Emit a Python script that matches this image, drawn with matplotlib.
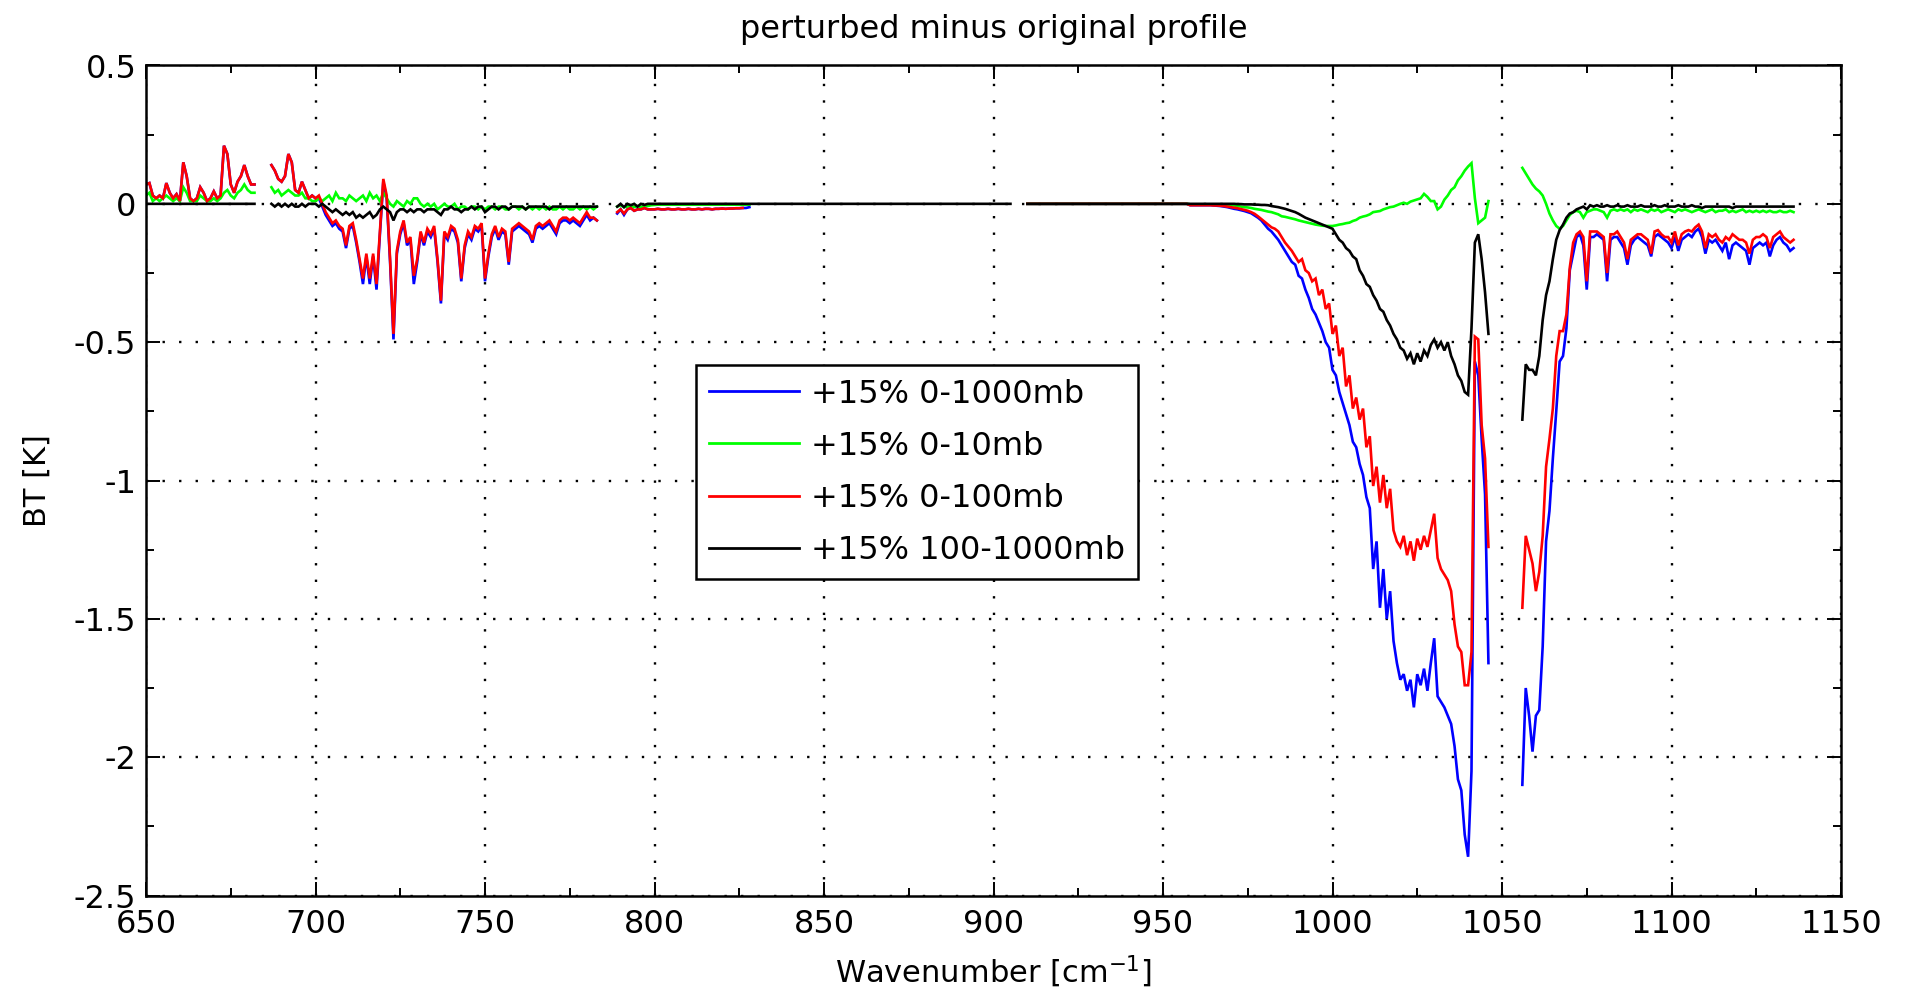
import numpy as np
import matplotlib
matplotlib.use("Agg")
import matplotlib.pyplot as plt
from matplotlib.ticker import MultipleLocator, FuncFormatter

plt.rcParams['font.family'] = ['DejaVu Sans']
plt.rcParams['axes.unicode_minus'] = False

# ---------------- data (BT differences, K) ----------------
TITLE = "perturbed minus original profile"
XLABEL = "Wavenumber [cm$^{-1}$]"
YLABEL = "BT [K]"
LABELS = ["+15% 0-1000mb", "+15% 0-10mb", "+15% 0-100mb", "+15% 100-1000mb"]
COLORS = ["#0000ff", "#00ff00", "#ff0000", "#000000"]

# spectral segments (1 cm-1 grid), start wavenumbers
START_A, START_B, START_C, START_D, START_E = 650, 687, 789, 958, 1056

# segment A: 650-682
RED_A = [0.07, 0.075, 0.03, 0.02, 0.03, 0.02, 0.075, 0.04, 0.02, 0.035,
         0.01, 0.15, 0.10, 0.02, 0.01, 0.02, 0.06, 0.04, 0.01, 0.02,
         0.045, 0.02, 0.03, 0.21, 0.18, 0.07, 0.04, 0.08, 0.10, 0.14,
         0.10, 0.07, 0.07]
BLUE_A = [0.07, 0.075, 0.03, 0.02, 0.03, 0.02, 0.075, 0.04, 0.02, 0.035,
          0.01, 0.15, 0.10, 0.02, 0.01, 0.02, 0.06, 0.04, 0.01, 0.02,
          0.045, 0.02, 0.03, 0.21, 0.18, 0.07, 0.04, 0.08, 0.10, 0.14,
          0.10, 0.07, 0.07]
GREEN_A = [0.03, 0.04, 0.01, 0.02, 0.01, 0.02, 0.03, 0.02, 0.01, 0.02,
           0.01, 0.06, 0.04, 0.01, 0.01, 0.01, 0.03, 0.02, 0.01, 0.01,
           0.02, 0.01, 0.02, 0.04, 0.05, 0.03, 0.02, 0.04, 0.05, 0.07,
           0.05, 0.04, 0.04]
BLACK_A_X = [650, 682]
BLACK_A_Y = [0.0, 0.0]

# segment B: 687-783
RED_B = [0.14, 0.12, 0.09, 0.08, 0.10, 0.18, 0.15, 0.05, 0.04, 0.08,
         0.05, 0.02, 0.03, 0.02, 0.03, 0.00, -0.03, -0.05, -0.07, -0.06,
         -0.08, -0.09, -0.15, -0.08, -0.07, -0.13, -0.20, -0.27, -0.18, -0.27,
         -0.18, -0.29, -0.10, 0.09, 0.03, -0.20, -0.47, -0.17, -0.10, -0.06,
         -0.14, -0.12, -0.26, -0.20, -0.10, -0.14, -0.09, -0.11, -0.08, -0.20,
         -0.35, -0.10, -0.12, -0.08, -0.09, -0.13, -0.27, -0.15, -0.10, -0.12,
         -0.08, -0.09, -0.07, -0.27, -0.18, -0.11, -0.08, -0.12, -0.09, -0.10,
         -0.21, -0.09, -0.08, -0.07, -0.08, -0.09, -0.10, -0.13, -0.08, -0.07,
         -0.08, -0.07, -0.06, -0.08, -0.10, -0.06, -0.05, -0.05, -0.06, -0.05,
         -0.06, -0.07, -0.05, -0.03, -0.05, -0.05, -0.06]
BLUE_B = [0.14, 0.12, 0.09, 0.08, 0.10, 0.18, 0.15, 0.05, 0.04, 0.08,
          0.05, 0.02, 0.03, 0.02, 0.02, -0.01, -0.04, -0.06, -0.08, -0.07,
          -0.09, -0.10, -0.16, -0.09, -0.08, -0.14, -0.21, -0.29, -0.19, -0.29,
          -0.19, -0.31, -0.11, 0.08, 0.02, -0.21, -0.49, -0.18, -0.11, -0.07,
          -0.15, -0.13, -0.29, -0.21, -0.11, -0.15, -0.10, -0.12, -0.09, -0.21,
          -0.36, -0.11, -0.13, -0.09, -0.10, -0.14, -0.28, -0.16, -0.11, -0.13,
          -0.09, -0.10, -0.08, -0.28, -0.19, -0.12, -0.09, -0.13, -0.10, -0.11,
          -0.22, -0.10, -0.09, -0.08, -0.09, -0.10, -0.11, -0.14, -0.09, -0.08,
          -0.09, -0.08, -0.07, -0.09, -0.11, -0.07, -0.06, -0.06, -0.07, -0.06,
          -0.07, -0.08, -0.06, -0.04, -0.06, -0.05, -0.06]
GREEN_B = [0.06, 0.04, 0.05, 0.03, 0.04, 0.05, 0.04, 0.03, 0.03, 0.04,
           0.02, 0.02, 0.01, 0.01, 0.02, 0.01, 0.02, 0.03, 0.01, 0.04,
           0.02, 0.02, 0.01, 0.03, 0.02, 0.01, 0.02, 0.03, 0.01, 0.04,
           0.02, 0.03, 0.01, 0.04, 0.02, 0.00, -0.01, 0.01, 0.00, -0.01,
           0.01, 0.00, 0.02, 0.02, 0.00, -0.01, 0.00, -0.01, 0.00, -0.02,
           -0.01, 0.00, -0.01, -0.01, 0.00, -0.02, -0.01, -0.01, -0.02, -0.01,
           -0.01, -0.02, -0.01, -0.02, -0.01, -0.01, -0.02, -0.01, -0.01, -0.02,
           -0.02, -0.01, -0.01, -0.02, -0.01, -0.02, -0.01, -0.02, -0.01, -0.02,
           -0.01, -0.02, -0.01, -0.02, -0.02, -0.01, -0.02, -0.01, -0.02, -0.02,
           -0.01, -0.02, -0.01, -0.02, -0.01, -0.02, -0.01]
BLACK_B = [0.00, -0.01, 0.00, -0.01, 0.00, -0.01, 0.00, -0.01, -0.01, 0.00,
           -0.01, 0.00, 0.00, 0.00, -0.01, 0.00, -0.01, -0.02, -0.03, -0.02,
           -0.03, -0.04, -0.03, -0.04, -0.03, -0.05, -0.04, -0.05, -0.04, -0.03,
           -0.05, -0.04, -0.02, -0.01, -0.02, -0.03, -0.06, -0.03, -0.02, -0.02,
           -0.03, -0.02, -0.03, -0.02, -0.02, -0.03, -0.02, -0.02, -0.02, -0.03,
           -0.04, -0.02, -0.02, -0.01, -0.02, -0.02, -0.03, -0.02, -0.02, -0.01,
           -0.02, -0.01, -0.01, -0.03, -0.02, -0.01, -0.01, -0.02, -0.01, -0.01,
           -0.02, -0.01, -0.01, -0.01, -0.01, -0.02, -0.01, -0.01, -0.01, -0.01,
           -0.01, -0.01, -0.02, -0.01, -0.01, -0.01, -0.01, -0.01, -0.01, -0.01,
           -0.01, -0.01, -0.01, -0.01, -0.01, -0.01, -0.01]

# segment C: 789-828
RED_C = [-0.03, -0.02, -0.035, -0.02, -0.015, -0.025, -0.02, -0.02, -0.015, -0.02,
         -0.02, -0.02, -0.018, -0.02, -0.02, -0.018, -0.02, -0.02, -0.018, -0.02,
         -0.02, -0.018, -0.02, -0.02, -0.018, -0.02, -0.018, -0.018, -0.02, -0.018,
         -0.018, -0.017, -0.018, -0.017, -0.017, -0.016, -0.016, -0.015]
BLUE_C = [-0.035, -0.02, -0.04, -0.02, -0.015, -0.025, -0.02, -0.02, -0.015, -0.02,
          -0.02, -0.02, -0.018, -0.02, -0.02, -0.018, -0.02, -0.02, -0.018, -0.02,
          -0.02, -0.018, -0.02, -0.02, -0.018, -0.02, -0.018, -0.018, -0.02, -0.018,
          -0.018, -0.017, -0.018, -0.017, -0.017, -0.016, -0.016, -0.015, -0.015, -0.012]
GREEN_C = [-0.01, -0.005, -0.012, -0.01, -0.005, -0.012, -0.008, -0.012, -0.006, -0.008,
           -0.005, -0.004]
GREEN_C_TAIL_X = [801, 828]
GREEN_C_TAIL_Y = [-0.003, -0.003]
BLACK_C = [-0.01, 0.0, -0.012, 0.0, -0.005, 0.0, -0.01, 0.0, -0.004, 0.0, 0.0, 0.0]
BLACK_C_TAIL_X = [801, 905]
BLACK_C_TAIL_Y = [0.0, 0.0]

# flat part before segment D
FLAT_D_X = [910, 957]
FLAT_D_Y = [0.0, 0.0]

# segment D: 958-1046
RED_D = [-0.005, -0.005, -0.005, -0.005, -0.005, -0.005, -0.005, -0.006, -0.006, -0.007,
         -0.008, -0.01, -0.012, -0.014, -0.016, -0.019, -0.022, -0.025, -0.03, -0.036,
         -0.045, -0.055, -0.065, -0.075, -0.085, -0.09, -0.10, -0.12, -0.14, -0.155,
         -0.17, -0.19, -0.21, -0.20, -0.24, -0.25, -0.28, -0.27, -0.33, -0.31,
         -0.38, -0.36, -0.47, -0.44, -0.55, -0.52, -0.66, -0.62, -0.74, -0.70,
         -0.78, -0.74, -0.88, -0.84, -1.02, -0.95, -1.08, -0.98, -1.10, -1.03,
         -1.18, -1.22, -1.24, -1.20, -1.27, -1.22, -1.29, -1.21, -1.25, -1.20,
         -1.24, -1.18, -1.12, -1.28, -1.32, -1.34, -1.36, -1.40, -1.52, -1.60,
         -1.62, -1.74, -1.74, -1.62, -0.48, -0.49, -0.80, -0.92, -1.24]
BLUE_D = [-0.005, -0.005, -0.005, -0.005, -0.005, -0.005, -0.005, -0.006, -0.007, -0.008,
          -0.01, -0.012, -0.015, -0.018, -0.02, -0.023, -0.026, -0.03, -0.034, -0.042,
          -0.05, -0.06, -0.075, -0.09, -0.10, -0.115, -0.13, -0.15, -0.17, -0.19,
          -0.21, -0.22, -0.26, -0.27, -0.31, -0.34, -0.38, -0.40, -0.43, -0.46,
          -0.50, -0.52, -0.60, -0.62, -0.68, -0.72, -0.76, -0.80, -0.86, -0.88,
          -0.94, -0.98, -1.06, -1.10, -1.32, -1.22, -1.46, -1.32, -1.50, -1.40,
          -1.58, -1.66, -1.72, -1.70, -1.76, -1.72, -1.82, -1.70, -1.74, -1.68,
          -1.76, -1.66, -1.57, -1.78, -1.80, -1.82, -1.85, -1.88, -1.96, -2.08,
          -2.12, -2.28, -2.36, -2.05, -0.57, -0.62, -0.85, -1.05, -1.66]
GREEN_D = [-0.002, -0.002, -0.002, -0.002, -0.002, -0.002, -0.002, -0.002, -0.002, -0.003,
           -0.003, -0.003, -0.004, -0.006, -0.008, -0.01, -0.012, -0.013, -0.015, -0.018,
           -0.02, -0.022, -0.025, -0.028, -0.03, -0.034, -0.038, -0.045, -0.047, -0.05,
           -0.053, -0.056, -0.06, -0.063, -0.066, -0.069, -0.072, -0.075, -0.077, -0.079,
           -0.08, -0.08, -0.08, -0.078, -0.075, -0.073, -0.07, -0.068, -0.062, -0.058,
           -0.05, -0.046, -0.043, -0.038, -0.03, -0.028, -0.026, -0.02, -0.016, -0.012,
           -0.01, -0.005, 0.0, 0.004, 0.0, 0.008, 0.012, 0.016, 0.02, 0.036,
           0.025, 0.01, 0.01, -0.02, -0.01, 0.015, 0.03, 0.05, 0.06, 0.085,
           0.10, 0.12, 0.135, 0.147, 0.02, -0.07, -0.06, -0.05, 0.01]
BLACK_D = [0.0, 0.0, 0.0, 0.0, 0.0, 0.0, 0.0, 0.0, 0.0, 0.0,
           0.0, 0.0, 0.0, 0.0, -0.001, -0.001, -0.002, -0.002, -0.002, -0.003,
           -0.003, -0.004, -0.004, -0.005, -0.008, -0.01, -0.012, -0.015, -0.018, -0.022,
           -0.026, -0.03, -0.036, -0.043, -0.05, -0.055, -0.06, -0.065, -0.07, -0.075,
           -0.08, -0.085, -0.09, -0.11, -0.13, -0.14, -0.16, -0.17, -0.19, -0.20,
           -0.24, -0.26, -0.29, -0.30, -0.33, -0.35, -0.38, -0.39, -0.42, -0.44,
           -0.47, -0.49, -0.52, -0.53, -0.56, -0.54, -0.58, -0.54, -0.57, -0.53,
           -0.55, -0.51, -0.49, -0.52, -0.50, -0.53, -0.50, -0.55, -0.58, -0.62,
           -0.64, -0.68, -0.69, -0.45, -0.14, -0.11, -0.20, -0.32, -0.47]

# segment E: 1056-1136
BLUE_E = [-2.10, -1.75, -1.85, -1.98, -1.85, -1.83, -1.60, -1.22, -1.11, -0.92,
          -0.75, -0.57, -0.55, -0.45, -0.24, -0.18, -0.12, -0.11, -0.15, -0.31,
          -0.12, -0.12, -0.11, -0.12, -0.13, -0.28, -0.13, -0.12, -0.12, -0.14,
          -0.16, -0.22, -0.15, -0.13, -0.12, -0.13, -0.14, -0.15, -0.19, -0.12,
          -0.11, -0.12, -0.13, -0.14, -0.16, -0.12, -0.17, -0.13, -0.12, -0.11,
          -0.12, -0.10, -0.09, -0.12, -0.18, -0.13, -0.14, -0.13, -0.15, -0.17,
          -0.14, -0.20, -0.15, -0.14, -0.15, -0.16, -0.17, -0.22, -0.16, -0.15,
          -0.14, -0.15, -0.14, -0.19, -0.15, -0.13, -0.12, -0.14, -0.15, -0.17,
          -0.16]
RED_E = [-1.46, -1.20, -1.25, -1.30, -1.40, -1.33, -1.20, -0.95, -0.85, -0.74,
         -0.55, -0.46, -0.46, -0.40, -0.23, -0.14, -0.11, -0.10, -0.12, -0.28,
         -0.10, -0.10, -0.10, -0.11, -0.12, -0.25, -0.11, -0.11, -0.10, -0.12,
         -0.14, -0.20, -0.13, -0.12, -0.11, -0.11, -0.12, -0.13, -0.18, -0.10,
         -0.095, -0.11, -0.12, -0.12, -0.14, -0.10, -0.15, -0.11, -0.10, -0.095,
         -0.10, -0.085, -0.075, -0.10, -0.16, -0.11, -0.12, -0.11, -0.13, -0.14,
         -0.12, -0.13, -0.11, -0.12, -0.13, -0.13, -0.14, -0.18, -0.13, -0.12,
         -0.12, -0.11, -0.12, -0.16, -0.12, -0.11, -0.10, -0.12, -0.13, -0.14,
         -0.13]
GREEN_E = [0.13, 0.11, 0.09, 0.07, 0.055, 0.045, 0.03, 0.0, -0.035, -0.06,
           -0.08, -0.09, -0.08, -0.06, -0.04, -0.03, -0.025, -0.03, -0.05, -0.03,
           -0.025, -0.02, -0.02, -0.025, -0.03, -0.05, -0.025, -0.02, -0.025, -0.02,
           -0.025, -0.02, -0.03, -0.02, -0.025, -0.02, -0.025, -0.03, -0.02, -0.025,
           -0.02, -0.03, -0.025, -0.02, -0.025, -0.03, -0.02, -0.025, -0.02, -0.025,
           -0.03, -0.025, -0.02, -0.025, -0.03, -0.025, -0.02, -0.03, -0.025, -0.025,
           -0.02, -0.03, -0.025, -0.03, -0.025, -0.02, -0.03, -0.025, -0.03, -0.025,
           -0.03, -0.025, -0.03, -0.025, -0.03, -0.03, -0.025, -0.03, -0.03, -0.025,
           -0.03]
BLACK_E = [-0.78, -0.58, -0.60, -0.60, -0.62, -0.55, -0.42, -0.33, -0.28, -0.20,
           -0.13, -0.095, -0.075, -0.05, -0.035, -0.03, -0.02, -0.015, -0.01, -0.02,
           -0.005, -0.01, -0.005, -0.01, -0.01, -0.005, -0.01, -0.01, -0.005, -0.01,
           -0.01, -0.005, -0.01, -0.01, -0.01, -0.005, -0.01, -0.01, -0.01, -0.005,
           -0.01, -0.01, -0.005, -0.01, -0.01, -0.01, -0.005, -0.01, -0.01, -0.01,
           -0.005, -0.01, -0.01, -0.015, -0.01, -0.01, -0.01, -0.01, -0.01, -0.01,
           -0.01, -0.01, -0.015, -0.01, -0.01, -0.01, -0.01, -0.01, -0.01, -0.01,
           -0.01, -0.01, -0.01, -0.01, -0.01, -0.01, -0.01, -0.01, -0.01, -0.01,
           -0.01]


# ---------------- helpers ----------------
def on_grid(start, vals):
    return start + np.arange(len(vals), dtype=float), np.asarray(vals, dtype=float)


def pts(xs, ys):
    return np.asarray(xs, dtype=float), np.asarray(ys, dtype=float)


def build(pieces):
    """pieces: list of lists of (x, y) parts; pieces are separated by gaps."""
    xs, ys = [], []
    for i, piece in enumerate(pieces):
        if i:
            xs.append(np.array([np.nan]))
            ys.append(np.array([np.nan]))
        for x, y in piece:
            xs.append(x)
            ys.append(y)
    return np.concatenate(xs), np.concatenate(ys)


blue = build([[on_grid(START_A, BLUE_A)], [on_grid(START_B, BLUE_B)],
              [on_grid(START_C, BLUE_C)],
              [pts(FLAT_D_X, FLAT_D_Y), on_grid(START_D, BLUE_D)],
              [on_grid(START_E, BLUE_E)]])
green = build([[on_grid(START_A, GREEN_A)], [on_grid(START_B, GREEN_B)],
               [on_grid(START_C, GREEN_C), pts(GREEN_C_TAIL_X, GREEN_C_TAIL_Y)],
               [pts(FLAT_D_X, FLAT_D_Y), on_grid(START_D, GREEN_D)],
               [on_grid(START_E, GREEN_E)]])
red = build([[on_grid(START_A, RED_A)], [on_grid(START_B, RED_B)],
             [on_grid(START_C, RED_C)],
             [pts(FLAT_D_X, FLAT_D_Y), on_grid(START_D, RED_D)],
             [on_grid(START_E, RED_E)]])
black = build([[pts(BLACK_A_X, BLACK_A_Y)], [on_grid(START_B, BLACK_B)],
               [on_grid(START_C, BLACK_C), pts(BLACK_C_TAIL_X, BLACK_C_TAIL_Y)],
               [pts(FLAT_D_X, FLAT_D_Y), on_grid(START_D, BLACK_D)],
               [on_grid(START_E, BLACK_E)]])

# ---------------- figure ----------------
W, H = 1905, 997
fig = plt.figure(figsize=(W / 100, H / 100), dpi=100)
ax = fig.add_axes([146 / W, 1 - 895.5 / H, 1695 / W, 830 / H])

for (x, y), c, lab in zip([blue, green, red, black], COLORS, LABELS):
    ax.plot(x, y, color=c, lw=1.9, label=lab, solid_joinstyle='miter')

ax.set_xlim(650, 1150)
ax.set_ylim(-2.5, 0.5)
ax.xaxis.set_major_locator(MultipleLocator(50))
ax.xaxis.set_minor_locator(MultipleLocator(25))
ax.yaxis.set_major_locator(MultipleLocator(0.5))
ax.yaxis.set_minor_locator(MultipleLocator(0.25))
ax.yaxis.set_major_formatter(FuncFormatter(lambda v, p: "%g" % v))
ax.xaxis.set_major_formatter(FuncFormatter(lambda v, p: "%g" % v))

ax.tick_params(which='both', direction='in', top=True, right=True, width=1.4,
               labelsize=23, colors='k')
ax.tick_params(which='major', length=10)
ax.tick_params(which='minor', length=6)
ax.tick_params(axis='x', which='major', pad=10)
ax.tick_params(axis='y', which='major', pad=7)

ax.set_axisbelow(True)
ax.grid(True, which='major', color='k', linestyle=(0, (1, 6)), linewidth=1.7)
for s in ax.spines.values():
    s.set_linewidth(1.8)

ax.set_title(TITLE, fontsize=23, pad=20)
ax.set_xlabel(XLABEL, fontsize=22, labelpad=10)
ax.set_ylabel(YLABEL, fontsize=22, labelpad=16)

leg = ax.legend(loc='upper left', bbox_to_anchor=(0.3245, 0.639), borderaxespad=0,
                fontsize=23, handlelength=2.8, handletextpad=0.38,
                labelspacing=0.66, borderpad=0.42, fancybox=False,
                framealpha=1, edgecolor='k')
leg.get_frame().set_linewidth(1.8)
for line in leg.get_lines():
    line.set_linewidth(2.0)

fig.savefig("out.png", dpi=100)
